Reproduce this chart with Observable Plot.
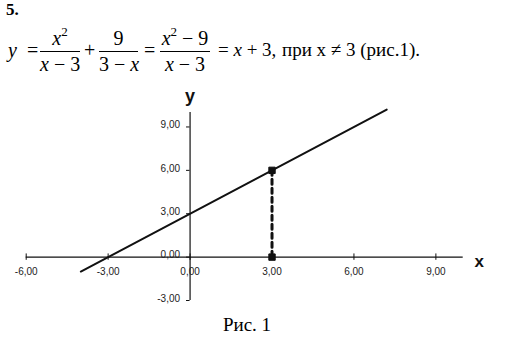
<!DOCTYPE html>
<html>
<head>
<meta charset="utf-8">
<script src="https://cdn.jsdelivr.net/npm/d3@7"></script>
<script src="https://cdn.jsdelivr.net/npm/@observablehq/plot@0.6"></script>
<style>
  body { margin: 0; background: #fff; width: 508px; height: 345px; overflow: hidden; }
  #head { position: relative; height: 80px; font-family: "Liberation Serif", "DejaVu Serif", "Times New Roman", serif; color: #000; font-size: 20px; line-height: 20px; }
  #head > div { position: absolute; white-space: nowrap; font-family: "Liberation Serif", "DejaVu Serif", serif; }
  #head .num { left: 6px; top: 0px; font-weight: bold; font-size: 17px; }
  #head .fr { text-align: center; }
  #head .bar { height: 1px; background: #000; }
  .i { font-style: italic; font-family: "Liberation Serif", "DejaVu Serif", serif; }
  sup { font-size: 13px; vertical-align: 9px; line-height: 0; }
  #cap { text-align: center; font-family: "Liberation Serif", "Times New Roman", serif; font-size: 19px; margin-top: 4px; padding-right: 14px; }
  svg { display: block; }
</style>
</head>
<body>
<div id="head">
  <div class="num">5.</div>
  <div class="i" style="left:8px; top:40px;">y</div>
  <div style="left:27px; top:40px;">=</div>
  <div class="fr" style="left:40px; width:40px; top:28px;"><span class="i">x</span><sup>2</sup></div>
  <div class="bar" style="left:40px; width:40px; top:51px;"></div>
  <div class="fr" style="left:40px; width:40px; top:54px;"><span class="i">x</span> − 3</div>
  <div style="left:84px; top:40px;">+</div>
  <div class="fr" style="left:99px; width:39px; top:28px;">9</div>
  <div class="bar" style="left:99px; width:39px; top:51px;"></div>
  <div class="fr" style="left:99px; width:39px; top:54px;">3 − <span class="i">x</span></div>
  <div style="left:144px; top:40px;">=</div>
  <div class="fr" style="left:160px; width:50px; top:28px;"><span class="i">x</span><sup>2</sup> − 9</div>
  <div class="bar" style="left:160px; width:50px; top:51px;"></div>
  <div class="fr" style="left:160px; width:50px; top:54px;"><span class="i">x</span> − 3</div>
  <div style="left:218px; top:40px; font-size:19px;">= <span class="i">x</span> + 3,</div>
  <div style="left:282px; top:40px; font-size:19px;">при x ≠ 3 (рис.1).</div>
</div>
<div id="chart"></div>
<div id="cap">Рис. 1</div>
<script>
// Data
const lineX = [-4, 7.2];
const lineY = [-1, 10.2];
const holeX = [3, 3];
const holeY = [6, 0];
const xTicks = [-6, -3, 0, 3, 6, 9];
const xTickLabels = ["-6,00", "-3,00", "0,00", "3,00", "6,00", "9,00"];
const yTicks = [-3, 0, 3, 6, 9];
const yTickLabels = ["-3,00", "0,00", "3,00", "6,00", "9,00"];
const xAxisExtent = [-6, 10];
const yAxisExtent = [-3, 10];

const lineData = lineX.map((x, i) => ({x, y: lineY[i]}));
const holeData = holeX.map((x, i) => ({x, y: holeY[i]}));
const xt = xTicks.map((v, i) => ({v, label: xTickLabels[i]}));
const yt = yTicks.map((v, i) => ({v, label: yTickLabels[i]}));

const font = "Liberation Sans, Arial, sans-serif";
const ink = "#111";

const chart = Plot.plot({
  width: 508,
  height: 230,
  marginLeft: 25.7,
  marginRight: 45.3,
  marginTop: 32,
  marginBottom: 10,
  x: {domain: xAxisExtent, axis: null},
  y: {domain: yAxisExtent, axis: null},
  style: {fontFamily: font, background: "#fff", overflow: "visible"},
  marks: [
    Plot.ruleY([0], {x1: xAxisExtent[0], x2: xAxisExtent[1], stroke: ink, strokeWidth: 1.2}),
    Plot.ruleX([0], {y1: yAxisExtent[0], y2: yAxisExtent[1], stroke: ink, strokeWidth: 1.2}),
    Plot.ruleX(xt, {x: "v", y1: -0.22, y2: 0.22, stroke: ink, strokeWidth: 1}),
    Plot.ruleY(yt, {y: "v", x1: -0.13, x2: 0, stroke: ink, strokeWidth: 1}),
    Plot.text(xt, {x: "v", y: 0, dy: 15, text: "label", fontSize: 10, fill: "#222"}),
    Plot.text(yt, {x: 0, y: "v", dx: -10, dy: -2, text: "label", textAnchor: "end", fontSize: 10, fill: "#222"}),
    Plot.text(["x"], {x: xAxisExtent[1], y: 0, dx: 16, dy: 4, text: d => d, fontSize: 17, fontWeight: "bold", fill: ink}),
    Plot.text(["y"], {x: 0, y: yAxisExtent[1], dy: -16, text: d => d, fontSize: 18, fontWeight: "bold", fill: ink}),
    Plot.line(lineData, {x: "x", y: "y", stroke: ink, strokeWidth: 2}),
    Plot.line(holeData, {x: "x", y: "y", stroke: ink, strokeWidth: 3, strokeDasharray: "5,4"}),
    Plot.dot(holeData, {x: "x", y: "y", symbol: "square", r: 3.6, fill: ink, stroke: ink, strokeWidth: 1})
  ]
});
document.getElementById("chart").appendChild(chart);
</script>
</body>
</html>
